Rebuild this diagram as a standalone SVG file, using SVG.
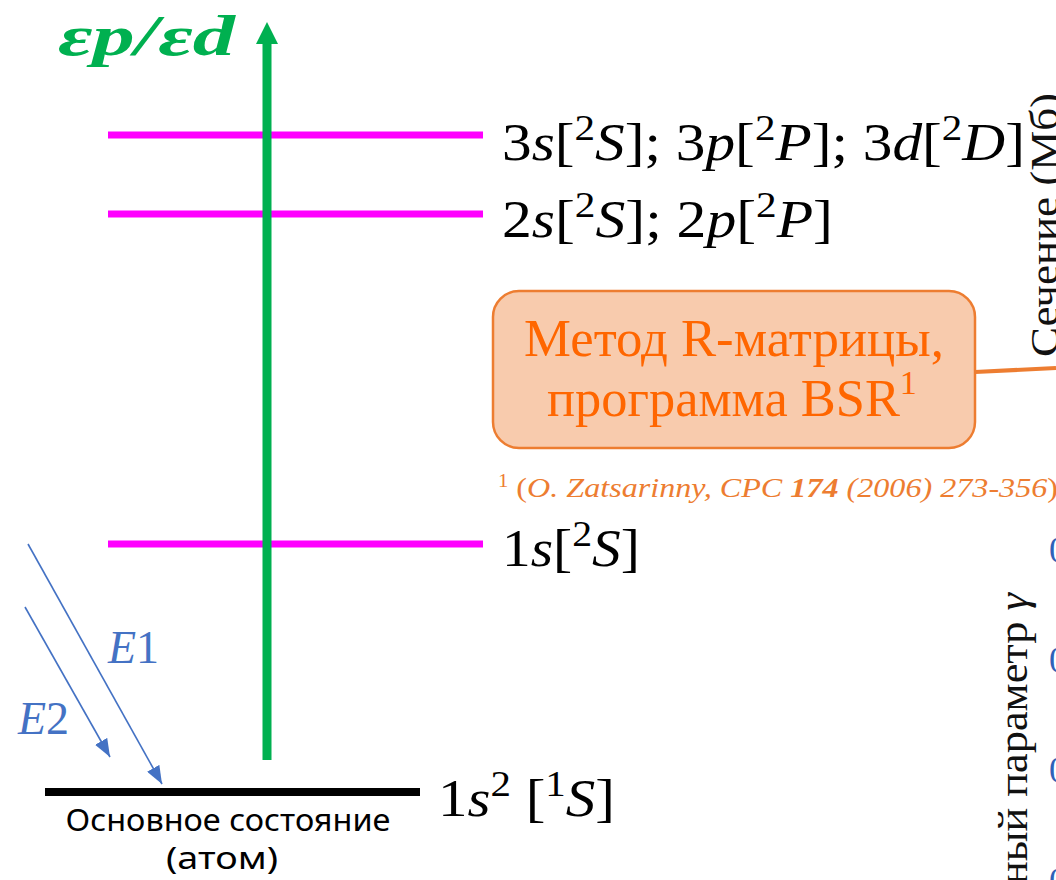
<svg xmlns="http://www.w3.org/2000/svg" width="1056" height="880" viewBox="0 0 1056 880">
<style>
.it{font-style:italic}
.lvl{stroke:#FF00FF;stroke-width:7}
.blue{stroke:#4472C4;stroke-width:1.6;fill:none}
</style>
<defs>
<marker id="ah" viewBox="0 0 10 10" refX="10" refY="5" markerWidth="18" markerHeight="14" markerUnits="userSpaceOnUse" orient="auto" preserveAspectRatio="none">
<path d="M0,0 L10,5 L0,10 z" fill="#4472C4"/>
</marker>
</defs>
<rect width="1056" height="880" fill="#fff"/>

<g id="bg-graph">
<text style="font-family:'Liberation Serif',serif" font-size="40" fill="#111" transform="translate(1058,357) rotate(-90)" textLength="264" lengthAdjust="spacingAndGlyphs">Сечение (Мб)</text>
<text style="font-family:'Liberation Serif',serif" font-size="42" fill="#111" transform="translate(1027,885) rotate(-90)" textLength="292" lengthAdjust="spacingAndGlyphs">ный параметр <tspan class="it">γ</tspan></text>
<text style="font-family:'Liberation Serif',serif" font-size="36" fill="#2E62B8" x="1049" y="562">0</text>
<text style="font-family:'Liberation Serif',serif" font-size="36" fill="#2E62B8" x="1049" y="672">0</text>
<text style="font-family:'Liberation Serif',serif" font-size="36" fill="#2E62B8" x="1049" y="782">0</text>
<text style="font-family:'Liberation Serif',serif" font-size="36" fill="#2E62B8" x="1049" y="893">0</text>
</g>

<g id="levels">
<line class="lvl" x1="108" y1="135" x2="483" y2="135"/>
<line class="lvl" x1="108" y1="214" x2="483" y2="214"/>
<line class="lvl" x1="108" y1="544" x2="483" y2="544"/>
</g>

<g id="ground">
<line x1="45" y1="792" x2="420" y2="792" stroke="#000" stroke-width="8"/>
<text style="font-family:'Noto Sans','Liberation Sans',sans-serif" font-size="30" x="228" y="831" text-anchor="middle" textLength="325" lengthAdjust="spacingAndGlyphs">Основное состояние</text>
<text style="font-family:'Noto Sans','Liberation Sans',sans-serif" font-size="30" x="222" y="869" text-anchor="middle" textLength="112" lengthAdjust="spacingAndGlyphs">(атом)</text>
<text style="font-family:'Liberation Serif',serif" x="438" y="816" font-size="52" textLength="177" lengthAdjust="spacingAndGlyphs">1<tspan class="it">s</tspan><tspan font-size="36" dy="-20">2</tspan><tspan dy="20"> [</tspan><tspan font-size="36" dy="-20">1</tspan><tspan class="it" dy="20">S</tspan>]</text>
</g>

<g id="continuum">
<line x1="267" y1="42" x2="267" y2="760" stroke="#00B050" stroke-width="9"/>
<path d="M256,44 L267,22 L278,44 z" fill="#00B050"/>
<text style="font-family:'Liberation Serif',serif;font-weight:bold;font-style:italic" font-size="58" fill="#00B050" x="58" y="55" textLength="177" lengthAdjust="spacingAndGlyphs">εp/εd</text>
</g>

<g id="labels">
<text style="font-family:'Liberation Serif',serif" x="502" y="160" font-size="52" textLength="523" lengthAdjust="spacingAndGlyphs">3<tspan class="it">s</tspan>[<tspan font-size="36" dy="-20">2</tspan><tspan class="it" dy="20">S</tspan>]; 3<tspan class="it">p</tspan>[<tspan font-size="36" dy="-20">2</tspan><tspan class="it" dy="20">P</tspan>]; 3<tspan class="it">d</tspan>[<tspan font-size="36" dy="-20">2</tspan><tspan class="it" dy="20">D</tspan>]</text>
<text style="font-family:'Liberation Serif',serif" x="502" y="237" font-size="52" textLength="331" lengthAdjust="spacingAndGlyphs">2<tspan class="it">s</tspan>[<tspan font-size="36" dy="-20">2</tspan><tspan class="it" dy="20">S</tspan>];  2<tspan class="it">p</tspan>[<tspan font-size="36" dy="-20">2</tspan><tspan class="it" dy="20">P</tspan>]</text>
<text style="font-family:'Liberation Serif',serif" x="502" y="566" font-size="52" textLength="138" lengthAdjust="spacingAndGlyphs">1<tspan class="it">s</tspan>[<tspan font-size="36" dy="-20">2</tspan><tspan class="it" dy="20">S</tspan>]</text>
</g>

<g id="method">
<rect x="493" y="291" width="482" height="157" rx="26" fill="#F8CBAD" stroke="#ED7D31" stroke-width="2.5"/>
<text style="font-family:'Liberation Serif',serif" font-size="52" fill="#FF6600" x="734" y="356" text-anchor="middle" textLength="420" lengthAdjust="spacingAndGlyphs">Метод R-матрицы,</text>
<text style="font-family:'Liberation Serif',serif" font-size="52" fill="#FF6600" x="732" y="416" text-anchor="middle" textLength="370" lengthAdjust="spacingAndGlyphs">программа BSR<tspan font-size="34" dy="-22">1</tspan></text>
<text style="font-family:'Liberation Serif',serif" font-size="28" fill="#ED7D31" x="498" y="497" textLength="560" lengthAdjust="spacingAndGlyphs"><tspan font-size="18" dy="-10">1</tspan><tspan dy="10"> (</tspan><tspan class="it">O. Zatsarinny, CPC </tspan><tspan class="it" font-weight="bold">174</tspan><tspan class="it"> (2006) 273-356</tspan>)</text>
</g>

<g id="connectors">
<line x1="975" y1="372" x2="1056" y2="368" stroke="#ED7D31" stroke-width="4"/>
<line class="blue" x1="28" y1="544" x2="162" y2="784" marker-end="url(#ah)"/>
<line class="blue" x1="25" y1="607" x2="110" y2="757" marker-end="url(#ah)"/>
</g>

<g id="elabels">
<text style="font-family:'Liberation Serif',serif" font-size="46" fill="#4472C4" x="108" y="663"><tspan class="it">E</tspan>1</text>
<text style="font-family:'Liberation Serif',serif" font-size="46" fill="#4472C4" x="18" y="734"><tspan class="it">E</tspan>2</text>
</g>
</svg>
